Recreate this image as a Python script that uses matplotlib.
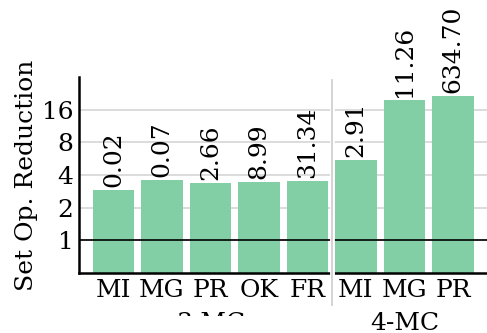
import matplotlib
matplotlib.use("Agg")
import matplotlib.pyplot as plt
from matplotlib.patches import Rectangle

# Data
methods = ["MI", "MG", "PR", "OK", "FR", "MI", "MG", "PR"]
groups = ["3-MC", "4-MC"]
group_sizes = [5, 3]
reduction = [2.9, 3.6, 3.4, 3.45, 3.55, 5.5, 19.7, 21.5]
bar_labels = ["0.02", "0.07", "2.66", "8.99", "31.34", "2.91", "11.26", "634.70"]
yticks = [1, 2, 4, 8, 16]

plt.rcParams["font.family"] = "DejaVu Serif"
FS = 18
BAR_COLOR = "#82cfa6"

fig = plt.figure(figsize=(4.87, 3.33), dpi=100)
ax = fig.add_axes([0.162, 0.180, 0.838, 0.589])

x = list(range(len(reduction)))
ax.set_yscale("log", base=2)
ax.set_ylim(0.5, 32)
ax.set_xlim(-0.711, 7.70)

ax.grid(axis="y", color="#d9d9d9", linewidth=1.3, zorder=0)
ax.set_axisbelow(True)
ax.bar(x, reduction, width=0.85, color=BAR_COLOR, zorder=2)
ax.axhline(1, color="black", linewidth=1.2, zorder=3)

for xi, h, lab in zip(x, reduction, bar_labels):
    ax.annotate(lab, (xi, h), xytext=(0, 2), textcoords="offset points",
                rotation=90, ha="center", va="bottom", fontsize=FS, zorder=4)

ax.set_yticks(yticks)
ax.set_yticklabels([str(t) for t in yticks], fontsize=FS)
ax.yaxis.set_minor_locator(matplotlib.ticker.NullLocator())
ax.set_xticks(x)
ax.set_xticklabels(methods, fontsize=FS)
ax.tick_params(axis="both", length=0, pad=4)
ax.set_ylabel("Set Op. Reduction", fontsize=FS, labelpad=3)

for side in ("top", "right"):
    ax.spines[side].set_visible(False)
for side in ("left", "bottom"):
    ax.spines[side].set_linewidth(1.8)
    ax.spines[side].set_color("black")

# group separator and group names
start = 0
for i, (g, n) in enumerate(zip(groups, group_sizes)):
    center = start + (n - 1) / 2
    ax.text(center, -0.29, g, transform=ax.get_xaxis_transform(),
            ha="center", va="baseline", fontsize=FS)
    start += n
    if i < len(groups) - 1:
        sep = start - 0.5
        ax.axvline(sep, ymin=-0.163, ymax=0.985, color="white",
                   linewidth=3.5, clip_on=False, zorder=5)
        ax.axvline(sep, ymin=-0.163, ymax=0.985, color="#d0d0d0",
                   linewidth=1.3, clip_on=False, zorder=6)

# blank strip along the lower-left edge
fig.patches.append(Rectangle((0, 0), 280 / 487, 17 / 333, transform=fig.transFigure,
                             facecolor="white", edgecolor="none", zorder=10))

fig.savefig("out.png", dpi=100)
